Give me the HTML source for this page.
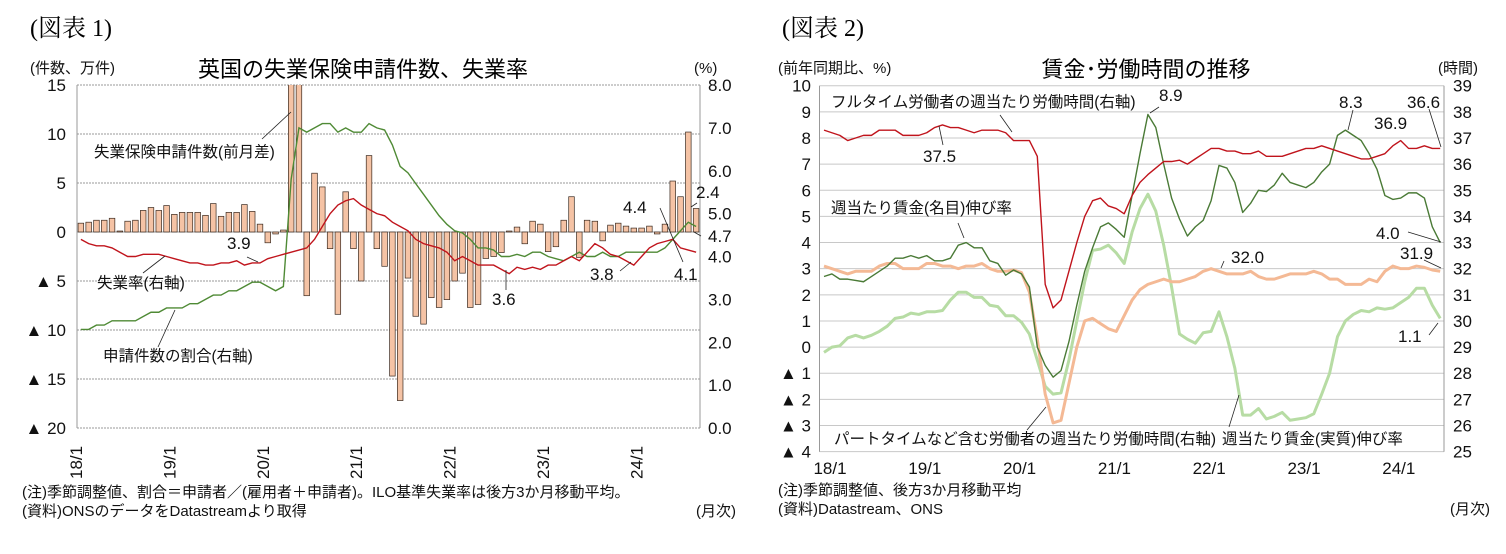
<!DOCTYPE html>
<html><head><meta charset="utf-8">
<style>
body{margin:0;background:#fff;}
svg{display:block;font-family:"Liberation Sans","Noto Sans CJK JP",sans-serif;}
.t{font-size:15.5px;fill:#111;}
.s{font-size:15px;fill:#111;}
.ax{font-size:17px;fill:#111;}
</style></head>
<body>
<svg id="c" width="1506" height="554" viewBox="0 0 1506 554" xmlns="http://www.w3.org/2000/svg">
<text x="30" y="36" font-family="Liberation Serif,Noto Serif CJK SC,serif" font-size="24">(図表 1)</text>
<text x="363" y="77" text-anchor="middle" font-size="22">英国の失業保険申請件数、失業率</text>
<text x="30" y="73" class="s">(件数、万件)</text>
<text x="694" y="73" class="s">(%)</text>
<text x="22" y="497" class="s" font-size="16">(注)季節調整値、割合＝申請者／(雇用者＋申請者)。ILO基準失業率は後方3か月移動平均。</text>
<text x="22" y="516" class="s" font-size="16">(資料)ONSのデータをDatastreamより取得</text>
<text x="736" y="516" class="s" font-size="16" text-anchor="end">(月次)</text>

<text x="782" y="36" font-family="Liberation Serif,Noto Serif CJK SC,serif" font-size="24">(図表 2)</text>
<text x="1146" y="77" text-anchor="middle" font-size="22">賃金･労働時間の推移</text>
<text x="778" y="73" class="s">(前年同期比、%)</text>
<text x="1438" y="73" class="s">(時間)</text>
<text x="778" y="495" class="s" font-size="16">(注)季節調整値、後方3か月移動平均</text>
<text x="778" y="514" class="s" font-size="16">(資料)Datastream、ONS</text>
<text x="1490" y="514" class="s" font-size="16" text-anchor="end">(月次)</text>
<defs><clipPath id="clipL"><rect x="77" y="85" width="623" height="343"/></clipPath></defs>
<g id="L"></g><g id="R"></g>
</svg>
<script>
// ===== Left chart data =====
const claimsChange = [0.9,1.0,1.2,1.2,1.4,0.1,1.1,1.2,2.2,2.5,2.2,2.7,
 1.8,2.0,2.0,2.0,1.7,2.9,1.6,2.0,2.0,2.8,2.1,0.8,
 -1.1,-0.2,0.2,85,20,-6.5,6.0,4.6,-1.7,-8.4,4.1,-1.7,
 -5.0,7.8,-1.7,-3.5,-14.7,-17.2,-4.7,-8.6,-9.4,-6.7,-7.7,-6.9,
 -5.0,-4.2,-7.7,-7.4,-2.7,-2.5,-2.1,0.1,0.5,-1.2,1.1,0.8,
 -2.0,-1.5,1.2,3.6,-2.6,1.2,1.1,-0.9,0.7,0.9,0.6,0.4,
 0.4,0.6,-0.2,0.8,5.2,3.6,10.2,2.4];
const unempRate = [4.4,4.3,4.25,4.25,4.2,4.1,4.0,4.0,4.05,4.05,4.05,4.0,
 3.95,3.9,3.85,3.85,3.8,3.8,3.85,3.85,3.9,3.8,3.85,3.85,
 3.95,4.0,4.05,4.1,4.15,4.2,4.4,4.7,5.0,5.2,5.3,5.35,
 5.2,5.1,5.0,4.95,4.8,4.7,4.6,4.4,4.3,4.25,4.2,4.1,
 3.9,4.0,3.9,3.8,3.8,3.8,3.7,3.6,3.75,3.7,3.75,3.7,
 3.8,3.8,3.9,4.0,3.9,4.1,4.3,4.2,4.05,4.0,3.9,3.8,
 4.0,4.2,4.3,4.35,4.4,4.2,4.15,4.1];
const claimantShare = [2.3,2.3,2.4,2.4,2.5,2.5,2.5,2.5,2.6,2.7,2.7,2.8,
 2.8,2.8,2.9,2.9,3.0,3.1,3.1,3.2,3.2,3.3,3.4,3.4,
 3.3,3.2,3.3,5.8,7.0,6.9,7.0,7.1,7.1,6.9,7.0,6.9,
 6.9,7.1,7.0,6.95,6.6,6.1,5.95,5.7,5.45,5.2,4.95,4.75,
 4.6,4.55,4.4,4.2,4.2,4.15,4.0,4.0,4.05,4.0,4.1,4.1,
 4.0,3.95,3.9,4.0,4.1,4.0,4.0,4.1,4.0,4.0,4.1,4.1,
 4.1,4.1,4.1,4.2,4.4,4.6,4.8,4.7];
const leftYTicks = [15,10,5,0,-5,-10,-15,-20];
const leftYTickLabels = ["15","10","5","0","▲ 5","▲ 10","▲ 15","▲ 20"];
const leftRTicks = [8,7,6,5,4,3,2,1,0];
const leftRTickLabels = ["8.0","7.0","6.0","5.0","4.0","3.0","2.0","1.0","0.0"];
const leftXLabels = ["18/1","19/1","20/1","21/1","22/1","23/1","24/1"];

// ===== Right chart data =====
const nominalWage = [2.7,2.8,2.6,2.6,2.55,2.5,2.7,2.9,3.1,3.4,3.4,3.5,
 3.4,3.5,3.3,3.3,3.4,3.9,4.0,3.8,3.8,3.3,3.2,2.75,
 2.95,2.8,2.3,0.0,-0.7,-1.15,-0.9,0.2,1.6,2.9,3.8,4.6,
 4.75,4.5,4.2,5.8,7.4,8.9,8.4,7.0,5.7,4.9,4.25,4.6,
 4.85,5.6,6.95,6.85,6.3,5.15,5.5,6.0,5.95,6.2,6.65,6.3,
 6.2,6.1,6.3,6.7,7.0,8.1,8.3,8.1,7.9,7.4,6.8,5.8,
 5.65,5.7,5.9,5.9,5.7,4.6,4.0];
const realWage = [-0.2,0.0,0.05,0.35,0.45,0.35,0.45,0.6,0.8,1.1,1.15,1.3,
 1.25,1.35,1.35,1.4,1.8,2.1,2.1,1.9,1.9,1.6,1.55,1.2,
 1.2,0.95,0.5,-0.5,-1.5,-1.8,-1.75,-0.5,1.0,2.5,3.7,3.75,
 3.9,3.6,3.2,4.4,5.3,5.85,5.2,3.9,2.3,0.5,0.3,0.15,
 0.55,0.6,1.35,0.4,-0.8,-2.6,-2.6,-2.35,-2.75,-2.65,-2.5,-2.8,
 -2.75,-2.7,-2.55,-1.8,-1.0,0.4,1.0,1.25,1.4,1.35,1.5,1.45,
 1.5,1.7,1.9,2.25,2.25,1.6,1.1];
const fullTimeHours = [37.3,37.2,37.1,36.9,37.0,37.1,37.1,37.3,37.3,37.3,37.1,37.1,
 37.1,37.2,37.4,37.5,37.4,37.4,37.3,37.2,37.3,37.3,37.3,37.2,
 36.9,36.9,36.9,36.3,31.4,30.5,30.8,31.9,33.0,34.0,34.6,34.7,
 34.4,34.3,34.1,34.8,35.3,35.6,35.85,36.1,36.1,36.15,36.0,36.2,
 36.4,36.6,36.6,36.5,36.5,36.4,36.4,36.5,36.3,36.3,36.3,36.4,
 36.5,36.6,36.6,36.7,36.6,36.5,36.4,36.3,36.2,36.2,36.3,36.4,
 36.7,36.9,36.6,36.6,36.7,36.6,36.6];
const allWorkerHours = [32.1,32.0,31.9,31.8,31.9,31.9,31.9,32.1,32.2,32.2,32.0,32.0,
 32.0,32.2,32.2,32.1,32.1,32.0,32.1,32.1,32.2,32.0,31.9,31.9,
 31.95,31.85,31.1,29.3,27.2,26.1,26.2,27.6,29.0,30.0,30.1,29.9,
 29.7,29.6,30.2,30.8,31.2,31.4,31.5,31.6,31.5,31.5,31.6,31.7,
 31.9,32.0,31.9,31.8,31.8,31.8,31.9,31.7,31.6,31.6,31.7,31.8,
 31.8,31.8,31.9,31.8,31.6,31.6,31.4,31.4,31.4,31.6,31.5,31.9,
 32.1,32.0,32.0,32.1,32.05,31.95,31.9];
const rightYTicks = [10,9,8,7,6,5,4,3,2,1,0,-1,-2,-3,-4];
const rightYTickLabels = ["10","9","8","7","6","5","4","3","2","1","0","▲ 1","▲ 2","▲ 3","▲ 4"];
const rightHourTicks = [39,38,37,36,35,34,33,32,31,30,29,28,27,26,25];
const rightXLabels = ["18/1","19/1","20/1","21/1","22/1","23/1","24/1"];

const NS="http://www.w3.org/2000/svg";
function mk(parent,tag,attrs){const e=document.createElementNS(NS,tag);for(const k in attrs)e.setAttribute(k,attrs[k]);parent.appendChild(e);return e;}
function txt(parent,x,y,s,attrs){const e=mk(parent,'text',Object.assign({x:x,y:y},attrs||{}));e.textContent=s;return e;}

// ---------- Left chart ----------
const L=document.getElementById('L');
const lx0=77,lx1=700,lband=(lx1-lx0)/claimsChange.length;
const lxc=i=>lx0+lband*(i+0.5);
const lyL=v=>232-(v)*(343/35);
const lyR=p=>428-p*(343/8);
leftYTicks.forEach((t,k)=>{
  const g=mk(L,'line',{x1:lx0,x2:lx1,y1:lyL(t),y2:lyL(t),stroke:'#999','stroke-width':1,'stroke-dasharray':t===0?'':'2,1'});
  
  
  const tl=txt(L,66,lyL(t)+6,leftYTickLabels[k],{class:'ax','text-anchor':'end'});
  
  
});
leftRTicks.forEach((t,k)=>{
  const tl=txt(L,708,lyR(t)+6,leftRTickLabels[k],{class:'ax'});
  
  
});
mk(L,'line',{x1:lx0,x2:lx0,y1:85,y2:428,stroke:'#999'});
mk(L,'line',{x1:lx1,x2:lx1,y1:85,y2:428,stroke:'#999'});
leftXLabels.forEach((s,k)=>{
  const x=lxc(k*12)+1,y=479;
  const tl=txt(L,x,y,s,{class:'ax',transform:'rotate(-90 '+x+' '+y+')'});
  
  
});
const bars=mk(L,'g',{'clip-path':'url(#clipL)'});
claimsChange.forEach((v,i)=>{
  const y0=lyL(0),y1=lyL(v);
  const r=mk(bars,'rect',{x:lxc(i)-2.8,y:Math.min(y0,y1),width:5.6,height:Math.abs(y1-y0),fill:'#f5c3a5',stroke:'#3a2a20','stroke-width':0.7});
  
  
});
function lineL(arr,color,w,name){
  const p=mk(L,'polyline',{points:arr.map((v,i)=>lxc(i)+','+lyR(v)).join(' '),fill:'none',stroke:color,'stroke-width':w});
  
  
}
lineL(claimantShare,'#4f8a35',1.4,'claimant-share-line');
lineL(unempRate,'#c0141c',1.4,'unemployment-rate-line');

const annL=[["失業保険申請件数(前月差)",94,157,'claims-series-label'],["3.9",227,249,'label-3-9'],["失業率(右軸)",97,288,'unemployment-series-label'],
["申請件数の割合(右軸)",103,361,'share-series-label'],["3.6",492,305,'label-3-6'],["3.8",590,280,'label-3-8'],["4.4",623,213,'label-4-4'],
["4.1",674,280,'label-4-1'],["2.4",696,198,'label-2-4'],["4.7",708,242,'label-4-7']];
annL.forEach(a=>{const t=txt(L,a[1],a[2],a[0],{class:a[0].length>4?'t':'ax'});});
[[262,139,291,112],[247,257,258,262],[143,273,165,256],[158,347,175,310],[506,290,506,270],[620,271,631,262],[660,208,683,262],[691,207,697,203],[694,232,701,236]].forEach(l=>{
  const e=mk(L,'line',{x1:l[0],y1:l[1],x2:l[2],y2:l[3],stroke:'#222','stroke-width':0.8});
  
  
});

// ---------- Right chart ----------
const R=document.getElementById('R');
const rx0=819.5,rx1=1444;
const rx=i=>824+i*7.9;
const ryL=v=>85.7+(10-v)*26.14;
const ryR=h=>85.7+(39-h)*26.14;
rightYTicks.forEach((t,k)=>{
  const g=mk(R,'line',{x1:rx0,x2:rx1,y1:ryL(t),y2:ryL(t),stroke:'#c8c8c8','stroke-width':1});
  
  
  const tl=txt(R,811,ryL(t)+6,rightYTickLabels[k],{class:'ax','text-anchor':'end'});
  
  
});
rightHourTicks.forEach(t=>{
  const tl=txt(R,1453,ryR(t)+6,String(t),{class:'ax'});
  
  
});
mk(R,'line',{x1:rx0,x2:rx0,y1:85.7,y2:451.7,stroke:'#999'});
mk(R,'line',{x1:rx1,x2:rx1,y1:85.7,y2:451.7,stroke:'#999'});
rightXLabels.forEach((s,k)=>{
  const tl=txt(R,rx(k*12)+6,474,s,{class:'ax','text-anchor':'middle'});
  
  
});
function lineR(arr,fy,color,w,name){
  const p=mk(R,'polyline',{points:arr.map((v,i)=>rx(i)+','+fy(v)).join(' '),fill:'none',stroke:color,'stroke-width':w,'stroke-linejoin':'round'});
  
  
}
lineR(realWage,ryL,'#b7dca4',3,'real-wage-line');
lineR(allWorkerHours,ryR,'#f4b995',3,'all-worker-hours-line');
lineR(nominalWage,ryL,'#4a7a36',1.4,'nominal-wage-line');
lineR(fullTimeHours,ryR,'#c0141c',1.4,'full-time-hours-line');

const annR=[["フルタイム労働者の週当たり労働時間(右軸)",831,107,'full-time-series-label'],["8.9",1159,101,'label-8-9'],["37.5",923,162,'label-37-5'],
["8.3",1339,108,'label-8-3'],["36.6",1407,108,'label-36-6'],["36.9",1374,129,'label-36-9'],["週当たり賃金(名目)伸び率",831,213,'nominal-series-label'],
["4.0",1376,239,'label-4-0'],["31.9",1400,259,'label-31-9'],["32.0",1231,263,'label-32-0'],["1.1",1398,342,'label-1-1'],
["パートタイムなど含む労働者の週当たり労働時間(右軸)",834,444,'all-worker-series-label'],["週当たり賃金(実質)伸び率",1222,444,'real-series-label']];
annR.forEach(a=>{const t=txt(R,a[1],a[2],a[0],{class:a[0].length>4?'t':'ax'});});
[[1000,115,1012,132],[1159,107,1150,113],[943,145,939,126],[1353,110,1348,130],[1429,109,1441,147],[1408,232,1441,242],[1424,260,1441,268],
[1224,261,1221,268],[1429,335,1438,323],[1027,430,1046,407],[1229,427,1239,395],[958,223,964,238]].forEach(l=>{
  const e=mk(R,'line',{x1:l[0],y1:l[1],x2:l[2],y2:l[3],stroke:'#222','stroke-width':0.8});
  
  
});
</script>
</body></html>
